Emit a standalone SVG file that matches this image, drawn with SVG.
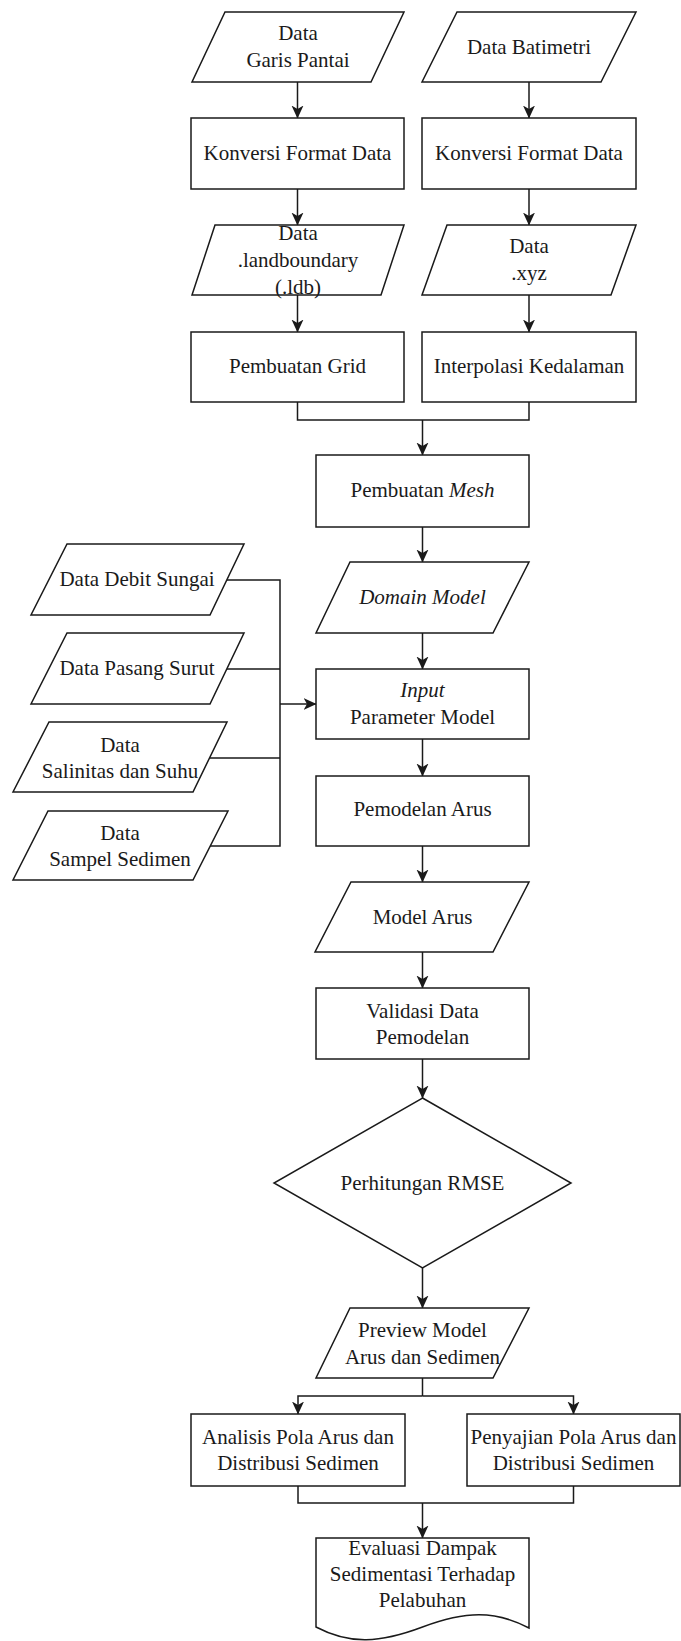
<svg xmlns="http://www.w3.org/2000/svg" width="681" height="1641" viewBox="0 0 681 1641">
<defs>
<style>
.s{fill:#fff;stroke:#1a1a1a;stroke-width:1.5}
.c{fill:none;stroke:#1a1a1a;stroke-width:1.5}
</style>
<marker id="ah" viewBox="0 0 13 13" refX="12.5" refY="6.5" markerWidth="13" markerHeight="13" markerUnits="userSpaceOnUse" orient="auto">
<path d="M0,0.5 L13,6.5 L0,12.5 L3.5,6.5 Z" fill="#1a1a1a"/>
</marker>
</defs>
<rect width="681" height="1641" fill="#fff"/>

<g id="connectors">
<path class="c" d="M297.5,82 V118" marker-end="url(#ah)"/>
<path class="c" d="M529,82 V118" marker-end="url(#ah)"/>
<path class="c" d="M297.5,189 V225" marker-end="url(#ah)"/>
<path class="c" d="M529,189 V225" marker-end="url(#ah)"/>
<path class="c" d="M297.5,295 V332" marker-end="url(#ah)"/>
<path class="c" d="M529,295 V332" marker-end="url(#ah)"/>
<path class="c" d="M297.5,402 V420 H529 V402"/>
<path class="c" d="M422.5,420 V455" marker-end="url(#ah)"/>
<path class="c" d="M422.5,527 V562" marker-end="url(#ah)"/>
<path class="c" d="M422.5,633 V669" marker-end="url(#ah)"/>
<path class="c" d="M227,580 H280 V846 H210 M227,669 H280 M210,758 H280"/>
<path class="c" d="M280,704 H316" marker-end="url(#ah)"/>
<path class="c" d="M422.5,739 V776" marker-end="url(#ah)"/>
<path class="c" d="M422.5,846 V882" marker-end="url(#ah)"/>
<path class="c" d="M422.5,952 V988" marker-end="url(#ah)"/>
<path class="c" d="M422.5,1059 V1098" marker-end="url(#ah)"/>
<path class="c" d="M422.5,1268 V1308" marker-end="url(#ah)"/>
<path class="c" d="M422.5,1378 V1396"/>
<path class="c" d="M422.5,1396 H298 V1414" marker-end="url(#ah)"/>
<path class="c" d="M422.5,1396 H573.5 V1414" marker-end="url(#ah)"/>
<path class="c" d="M298,1486 V1503 H573.5 V1486"/>
<path class="c" d="M422.5,1503 V1538" marker-end="url(#ah)"/>
</g>

<g id="n-garis">
<polygon class="s" points="225,12 404,12 371,82 192,82"/>
<text x="298" y="40" font-family="Liberation Serif" font-size="21" fill="#1a1a1a" text-anchor="middle">Data</text>
<text x="298" y="67" font-family="Liberation Serif" font-size="21" fill="#1a1a1a" text-anchor="middle">Garis Pantai</text>
</g>
<g id="n-batimetri">
<polygon class="s" points="457,12 636,12 601,82 422,82"/>
<text x="529" y="54" font-family="Liberation Serif" font-size="21" fill="#1a1a1a" text-anchor="middle">Data Batimetri</text>
</g>
<g id="n-konversi1">
<rect class="s" x="191" y="118" width="213" height="71"/>
<text x="297.5" y="160" font-family="Liberation Serif" font-size="21" fill="#1a1a1a" text-anchor="middle">Konversi Format Data</text>
</g>
<g id="n-konversi2">
<rect class="s" x="422" y="118" width="214" height="71"/>
<text x="529" y="160" font-family="Liberation Serif" font-size="21" fill="#1a1a1a" text-anchor="middle">Konversi Format Data</text>
</g>
<g id="n-ldb">
<polygon class="s" points="215,225 404,225 381,295 192,295"/>
<text x="298" y="240" font-family="Liberation Serif" font-size="21" fill="#1a1a1a" text-anchor="middle">Data</text>
<text x="298" y="267" font-family="Liberation Serif" font-size="21" fill="#1a1a1a" text-anchor="middle">.landboundary</text>
<text x="298" y="294" font-family="Liberation Serif" font-size="21" fill="#1a1a1a" text-anchor="middle">(.ldb)</text>
</g>
<g id="n-xyz">
<polygon class="s" points="447,225 636,225 611,295 422,295"/>
<text x="529" y="253" font-family="Liberation Serif" font-size="21" fill="#1a1a1a" text-anchor="middle">Data</text>
<text x="529" y="280" font-family="Liberation Serif" font-size="21" fill="#1a1a1a" text-anchor="middle">.xyz</text>
</g>
<g id="n-grid">
<rect class="s" x="191" y="332" width="213" height="70"/>
<text x="297.5" y="373" font-family="Liberation Serif" font-size="21" fill="#1a1a1a" text-anchor="middle">Pembuatan Grid</text>
</g>
<g id="n-interpolasi">
<rect class="s" x="422" y="332" width="214" height="70"/>
<text x="529" y="373" font-family="Liberation Serif" font-size="21" fill="#1a1a1a" text-anchor="middle">Interpolasi Kedalaman</text>
</g>
<g id="n-mesh">
<rect class="s" x="316" y="455" width="213" height="72"/>
<text x="422.5" y="497" font-family="Liberation Serif" font-size="21" fill="#1a1a1a" text-anchor="middle">Pembuatan <tspan font-style="italic">Mesh</tspan></text>
</g>
<g id="n-domain">
<polygon class="s" points="350,562 529,562 493,633 316,633"/>
<text x="422.5" y="604" font-family="Liberation Serif" font-size="21" fill="#1a1a1a" text-anchor="middle" font-style="italic">Domain Model</text>
</g>
<g id="n-input">
<rect class="s" x="316" y="669" width="213" height="70"/>
<text x="422.5" y="697" font-family="Liberation Serif" font-size="21" fill="#1a1a1a" text-anchor="middle" font-style="italic">Input</text>
<text x="422.5" y="724" font-family="Liberation Serif" font-size="21" fill="#1a1a1a" text-anchor="middle">Parameter Model</text>
</g>
<g id="n-debit">
<polygon class="s" points="67,544 244,544 210,615 31,615"/>
<text x="137" y="586" font-family="Liberation Serif" font-size="21" fill="#1a1a1a" text-anchor="middle">Data Debit Sungai</text>
</g>
<g id="n-pasang">
<polygon class="s" points="67,633 244,633 210,704 31,704"/>
<text x="137" y="675" font-family="Liberation Serif" font-size="21" fill="#1a1a1a" text-anchor="middle">Data Pasang Surut</text>
</g>
<g id="n-salinitas">
<polygon class="s" points="49,722 227,722 193,792 13,792"/>
<text x="120" y="752" font-family="Liberation Serif" font-size="21" fill="#1a1a1a" text-anchor="middle">Data</text>
<text x="120" y="778" font-family="Liberation Serif" font-size="21" fill="#1a1a1a" text-anchor="middle">Salinitas dan Suhu</text>
</g>
<g id="n-sampel">
<polygon class="s" points="48,811 228,811 193,880 13,880"/>
<text x="120" y="840" font-family="Liberation Serif" font-size="21" fill="#1a1a1a" text-anchor="middle">Data</text>
<text x="120" y="866" font-family="Liberation Serif" font-size="21" fill="#1a1a1a" text-anchor="middle">Sampel Sedimen</text>
</g>
<g id="n-pemodelan">
<rect class="s" x="316" y="776" width="213" height="70"/>
<text x="422.5" y="816" font-family="Liberation Serif" font-size="21" fill="#1a1a1a" text-anchor="middle">Pemodelan Arus</text>
</g>
<g id="n-modelarus">
<polygon class="s" points="351,882 529,882 493,952 315,952"/>
<text x="422.5" y="924" font-family="Liberation Serif" font-size="21" fill="#1a1a1a" text-anchor="middle">Model Arus</text>
</g>
<g id="n-validasi">
<rect class="s" x="316" y="988" width="213" height="71"/>
<text x="422.5" y="1018" font-family="Liberation Serif" font-size="21" fill="#1a1a1a" text-anchor="middle">Validasi Data</text>
<text x="422.5" y="1044" font-family="Liberation Serif" font-size="21" fill="#1a1a1a" text-anchor="middle">Pemodelan</text>
</g>
<g id="n-rmse">
<polygon class="s" points="422.5,1098 571,1183 422.5,1268 274,1183"/>
<text x="422.5" y="1190" font-family="Liberation Serif" font-size="21" fill="#1a1a1a" text-anchor="middle">Perhitungan RMSE</text>
</g>
<g id="n-preview">
<polygon class="s" points="350,1308 529,1308 493,1378 316,1378"/>
<text x="422.5" y="1337" font-family="Liberation Serif" font-size="21" fill="#1a1a1a" text-anchor="middle">Preview Model</text>
<text x="422.5" y="1364" font-family="Liberation Serif" font-size="21" fill="#1a1a1a" text-anchor="middle">Arus dan Sedimen</text>
</g>
<g id="n-analisis">
<rect class="s" x="191" y="1414" width="214" height="72"/>
<text x="298" y="1444" font-family="Liberation Serif" font-size="21" fill="#1a1a1a" text-anchor="middle">Analisis Pola Arus dan</text>
<text x="298" y="1470" font-family="Liberation Serif" font-size="21" fill="#1a1a1a" text-anchor="middle">Distribusi Sedimen</text>
</g>
<g id="n-penyajian">
<rect class="s" x="467" y="1414" width="213" height="72"/>
<text x="573.5" y="1444" font-family="Liberation Serif" font-size="21" fill="#1a1a1a" text-anchor="middle">Penyajian Pola Arus dan</text>
<text x="573.5" y="1470" font-family="Liberation Serif" font-size="21" fill="#1a1a1a" text-anchor="middle">Distribusi Sedimen</text>
</g>
<g id="n-evaluasi">
<path class="s" d="M316,1538 H529 V1628 C495,1610 465,1611 422.5,1627 C380,1643 350,1645 316,1627 Z"/>
<text x="422.5" y="1555" font-family="Liberation Serif" font-size="21" fill="#1a1a1a" text-anchor="middle">Evaluasi Dampak</text>
<text x="422.5" y="1581" font-family="Liberation Serif" font-size="21" fill="#1a1a1a" text-anchor="middle">Sedimentasi Terhadap</text>
<text x="422.5" y="1607" font-family="Liberation Serif" font-size="21" fill="#1a1a1a" text-anchor="middle">Pelabuhan</text>
</g>
</svg>
